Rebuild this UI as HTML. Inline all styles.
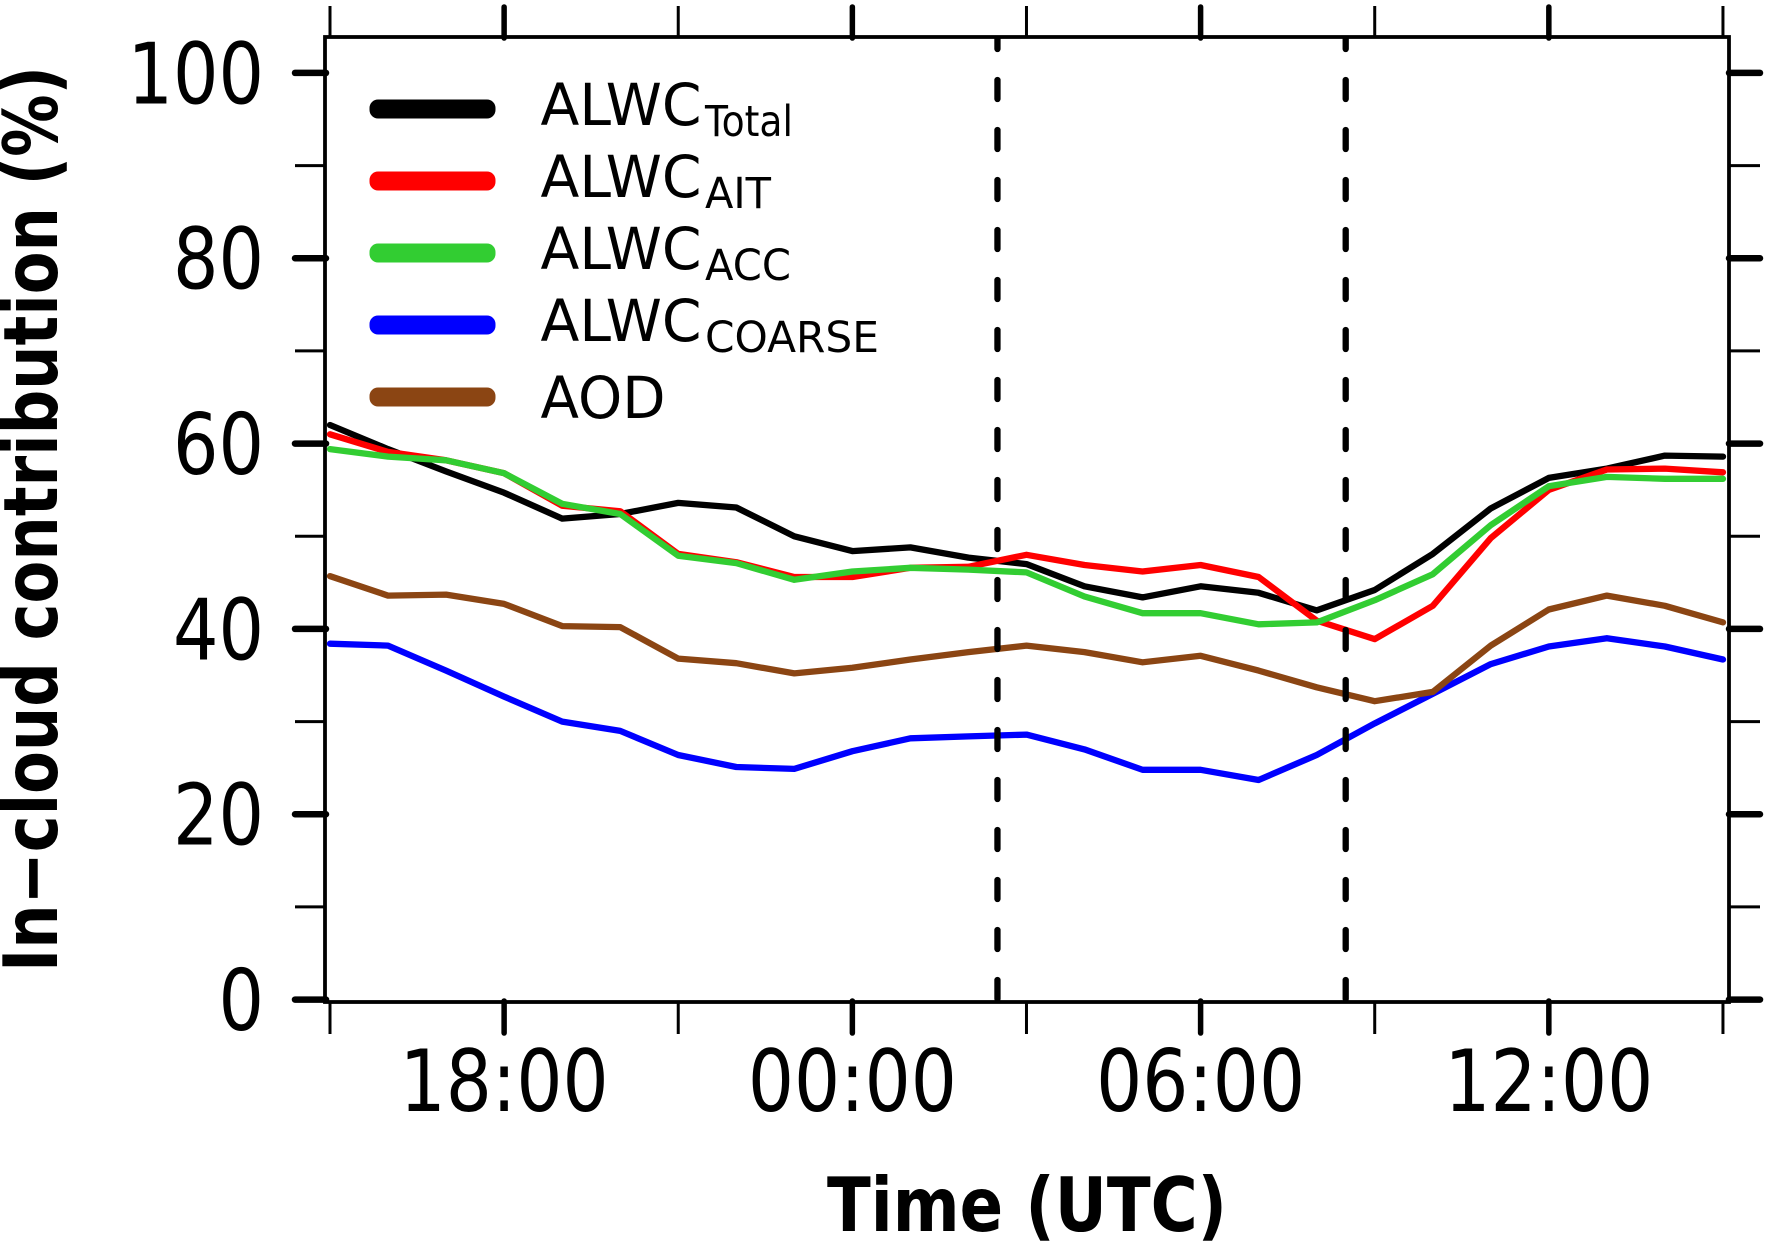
<!DOCTYPE html>
<html lang="en">
<head>
<meta charset="utf-8">
<title>In-cloud contribution</title>
<style>
html,body{margin:0;padding:0;background:#fff;width:1766px;height:1241px;overflow:hidden}
svg{display:block}
text{font-family:"DejaVu Sans","Liberation Sans",sans-serif;fill:#000}
</style>
</head>
<body>
<svg id="chart" xmlns="http://www.w3.org/2000/svg" width="1766" height="1241" viewBox="0 0 1766 1241">
  <defs>
    <clipPath id="plot-clip"><rect x="325" y="36" width="1404" height="967"/></clipPath>
  </defs>
  <rect x="0" y="0" width="1766" height="1241" fill="#fff"/>
  <g id="ticks"></g>
  <g id="series"></g>
  <g id="refs" clip-path="url(#plot-clip)"></g>
  <rect x="325" y="37" width="1404" height="965" fill="none" stroke="#000" stroke-width="3.8"/>
  <g id="labels"></g>
  <text x="827" y="1231" font-size="75" font-weight="700" textLength="400" lengthAdjust="spacingAndGlyphs">Time (UTC)</text>
  <text transform="translate(57,972) rotate(-90)" x="0" y="0" font-size="75" font-weight="700" textLength="906" lengthAdjust="spacingAndGlyphs">In−cloud contribution (%)</text>
  <g>
    <g>
      <rect x="369.5" y="99.5" width="126" height="19" rx="8.5" fill="#000"/>
      <text x="540.5" y="125" font-size="58" textLength="161" lengthAdjust="spacingAndGlyphs">ALWC</text>
      <text x="705" y="136" font-size="43" textLength="88" lengthAdjust="spacingAndGlyphs">Total</text>
    </g>
    <g>
      <rect x="369.5" y="171.5" width="126" height="19" rx="8.5" fill="#ff0000"/>
      <text x="540.5" y="197" font-size="58" textLength="161" lengthAdjust="spacingAndGlyphs">ALWC</text>
      <text x="705" y="208" font-size="43" textLength="66" lengthAdjust="spacingAndGlyphs">AIT</text>
    </g>
    <g>
      <rect x="369.5" y="243.5" width="126" height="19" rx="8.5" fill="#32cd32"/>
      <text x="540.5" y="269" font-size="58" textLength="161" lengthAdjust="spacingAndGlyphs">ALWC</text>
      <text x="705" y="280" font-size="43" textLength="86" lengthAdjust="spacingAndGlyphs">ACC</text>
    </g>
    <g>
      <rect x="369.5" y="315.5" width="126" height="19" rx="8.5" fill="#0000ff"/>
      <text x="540.5" y="341" font-size="58" textLength="161" lengthAdjust="spacingAndGlyphs">ALWC</text>
      <text x="705" y="352" font-size="43" textLength="174" lengthAdjust="spacingAndGlyphs">COARSE</text>
    </g>
    <g>
      <rect x="369.5" y="387.5" width="126" height="19" rx="8.5" fill="#8b4513"/>
      <text x="540.5" y="418" font-size="58" textLength="125" lengthAdjust="spacingAndGlyphs">AOD</text>
    </g>
  </g>
</svg>
<script>
var hours = [0,1,2,3,4,5,6,7,8,9,10,11,12,13,14,15,16,17,18,19,20,21,22,23,24];
var alwcTotal = [62.0,59.4,57.0,54.7,51.9,52.4,53.6,53.1,50.0,48.4,48.8,47.7,47.0,44.6,43.4,44.6,43.9,42.0,44.2,48.1,53.0,56.3,57.3,58.7,58.6];
var alwcAit = [61.0,59.1,58.2,56.8,53.3,52.7,48.1,47.2,45.6,45.6,46.6,46.7,48.0,46.9,46.2,46.9,45.6,40.9,38.9,42.5,49.8,55.0,57.2,57.3,56.9];
var alwcAcc = [59.4,58.6,58.2,56.8,53.5,52.4,47.9,47.1,45.3,46.2,46.6,46.4,46.1,43.5,41.7,41.7,40.5,40.7,43.1,45.9,51.2,55.4,56.4,56.2,56.2];
var alwcCoarse = [38.4,38.2,35.5,32.7,30.0,29.0,26.4,25.1,24.9,26.8,28.2,28.4,28.6,27.0,24.8,24.8,23.7,26.4,29.8,33.0,36.2,38.1,39.0,38.1,36.7];
var aod = [45.7,43.6,43.7,42.7,40.3,40.2,36.8,36.3,35.2,35.8,36.7,37.5,38.2,37.5,36.4,37.1,35.5,33.7,32.2,33.2,38.2,42.1,43.6,42.5,40.7];
var yTickValues = [0,10,20,30,40,50,60,70,80,90,100];
var yLabels = ["0","20","40","60","80","100"];
var xTickHours = [0,3,6,9,12,15,18,21,24];
var xLabels = ["18:00","00:00","06:00","12:00"];
var xLabelHours = [3,9,15,21];
var refHours = [11.5,17.5];

var NS = 'http://www.w3.org/2000/svg';
function xs(h){ return 330 + h * 58.04; }
function ys(v){ return 999.6 - v * 9.267; }
function make(tag, parent, attrs){
  var el = document.createElementNS(NS, tag);
  for (var k in attrs) el.setAttribute(k, attrs[k]);
  parent.appendChild(el);
  return el;
}
var ticks = document.getElementById('ticks');
var series = document.getElementById('series');
var refs = document.getElementById('refs');
var labels = document.getElementById('labels');

yTickValues.forEach(function(v){
  var major = v % 20 === 0;
  var w = major ? 6.5 : 3;
  var cap = major ? 'round' : 'butt';
  var left = make('line', ticks, {x1:295, x2:326, y1:ys(v), y2:ys(v), stroke:'#000', 'stroke-width':w, 'stroke-linecap':cap});
  
  
  var right = make('line', ticks, {x1:1729, x2:1760, y1:ys(v), y2:ys(v), stroke:'#000', 'stroke-width':w, 'stroke-linecap':cap});
  
  
});
xTickHours.forEach(function(h, i){
  var major = i % 2 === 1;
  var w = major ? 5.5 : 3;
  var x = xs(h);
  var top = make('line', ticks, {x1:x, x2:x, y1:major?7:6, y2:major?38:37, stroke:'#000', 'stroke-width':w, 'stroke-linecap':major?'round':'butt'});
  
  
  var bottom = make('line', ticks, {x1:x, x2:x, y1:1001, y2:major?1033:1034, stroke:'#000', 'stroke-width':w, 'stroke-linecap':major?'round':'butt'});
  
  
});
yLabels.forEach(function(t){
  var el = make('text', labels, {x:264, y:ys(+t)+30.4, 'font-size':85, 'text-anchor':'end', textLength:t.length*45.5, lengthAdjust:'spacingAndGlyphs'});
  el.textContent = t;
  
  
});
xLabels.forEach(function(t, i){
  var el = make('text', labels, {x:xs(xLabelHours[i]), y:1111, 'font-size':86, 'text-anchor':'middle', textLength:209, lengthAdjust:'spacingAndGlyphs'});
  el.textContent = t;
  
  
});
function drawLine(values, color){
  var d = values.map(function(v, i){ return (i ? 'L' : 'M') + xs(hours[i]).toFixed(1) + ' ' + ys(v).toFixed(1); }).join(' ');
  return make('path', series, {d:d, fill:'none', stroke:color, 'stroke-width':6.3, 'stroke-linejoin':'round', 'stroke-linecap':'round'});
}
var lineTotal = drawLine(alwcTotal, '#000000');


var lineAit = drawLine(alwcAit, '#ff0000');


var lineAcc = drawLine(alwcAcc, '#32cd32');


var lineCoarse = drawLine(alwcCoarse, '#0000ff');


var lineAod = drawLine(aod, '#8b4513');


refHours.forEach(function(h){
  var el = make('line', refs, {x1:xs(h), x2:xs(h), y1:30, y2:1010, stroke:'#000', 'stroke-width':6.3, 'stroke-linecap':'round', 'stroke-dasharray':'19 31'});
  
  
});
</script>
</body>
</html>
